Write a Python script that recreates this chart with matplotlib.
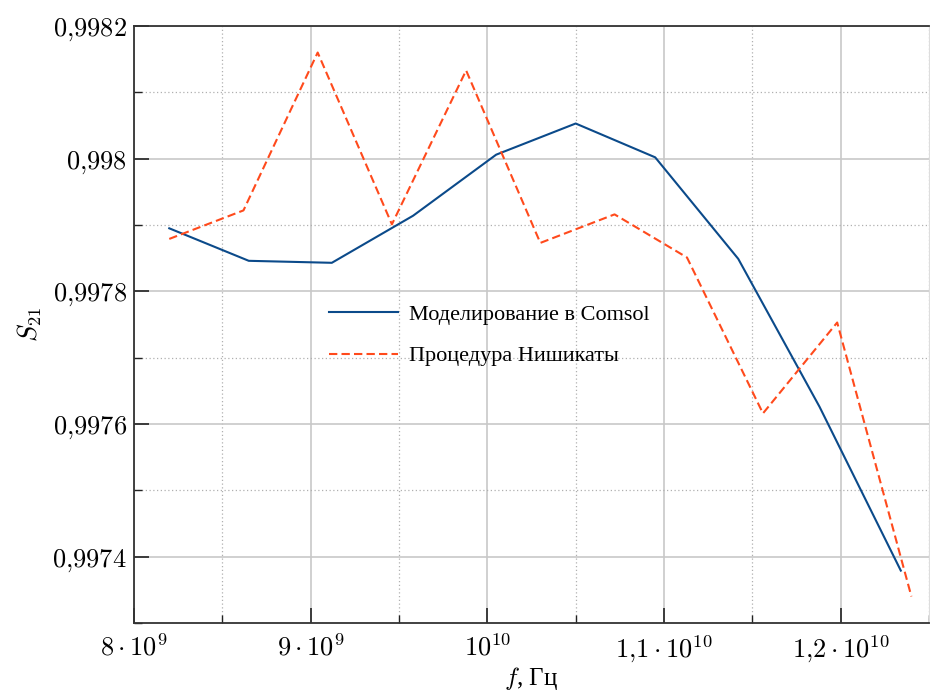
import numpy as np
import matplotlib
matplotlib.use('Agg')
import matplotlib.pyplot as plt
from matplotlib.ticker import FixedLocator, MultipleLocator

plt.rcParams['font.family'] = ['Liberation Serif', 'DejaVu Serif']
plt.rcParams['mathtext.fontset'] = 'cm'

# Моделирование в Comsol
f_comsol = [8.20e9, 8.65e9, 9.12e9, 9.58e9, 10.05e9, 10.50e9, 10.95e9, 11.42e9, 11.88e9, 12.34e9]
s21_comsol = [0.997895, 0.997846, 0.997843, 0.997914, 0.998006, 0.998053, 0.998002,
              0.997849, 0.997626, 0.997379]

# Процедура Нишикаты
f_nish = [8.20e9, 8.62e9, 9.04e9, 9.46e9, 9.88e9, 10.30e9, 10.72e9, 11.13e9, 11.56e9,
          11.98e9, 12.40e9]
s21_nish = [0.997879, 0.997922, 0.998160, 0.997901, 0.998133, 0.997873, 0.997916,
            0.997851, 0.997616, 0.997753, 0.997340]

xticks = [8e9, 9e9, 1e10, 1.1e10, 1.2e10]
xticklabels = [r'$8\cdot10^{9}$', r'$9\cdot10^{9}$', r'$10^{10}$',
               r'$1{,}1\cdot10^{10}$', r'$1{,}2\cdot10^{10}$']
yticks = [0.9974, 0.9976, 0.9978, 0.998, 0.9982]
yticklabels = [r'$0{,}9974$', r'$0{,}9976$', r'$0{,}9978$', r'$0{,}998$', r'$0{,}9982$']

fig = plt.figure(figsize=(9.3, 6.95), dpi=100)
ax = fig.add_axes([0.144, 0.1036, 0.855, 0.859])

ax.plot(f_comsol, s21_comsol, color='#0b4a8a', lw=1.5, label='Моделирование в Comsol')
ax.plot(f_nish, s21_nish, color='#ff4a1c', lw=1.5, ls=(0, (4, 2)), label='Процедура Нишикаты')

ax.set_xlim(8e9, 1.25e10)
ax.set_ylim(0.99730, 0.9982)

ax.xaxis.set_major_locator(FixedLocator(xticks))
ax.set_xticklabels(xticklabels)
ax.xaxis.set_minor_locator(MultipleLocator(0.5e9))
ax.yaxis.set_major_locator(FixedLocator(yticks))
ax.set_yticklabels(yticklabels)
ax.yaxis.set_minor_locator(MultipleLocator(0.0001))

ax.tick_params(which='major', direction='in', length=11, width=1.2, labelsize=19,
               color='#222222', pad=5)
ax.tick_params(axis='x', which='major', pad=8)
ax.tick_params(which='minor', direction='in', length=6, width=1.0, color='#222222')

ax.grid(which='major', color='#c8c8c8', lw=1.2, ls='-')
ax.grid(which='minor', color='#b0b0b0', lw=0.9, ls=(0, (1, 2)))
ax.set_axisbelow(True)

for side in ['left', 'top', 'bottom']:
    ax.spines[side].set_color('#333333')
    ax.spines[side].set_linewidth(1.3)
ax.spines['right'].set_color('#dddddd')

ax.set_xlabel(r'$f$, Гц', fontsize=18, labelpad=0)
ax.set_ylabel(r'$S_{21}$', fontsize=19, labelpad=6)

ax.legend(loc='center left', bbox_to_anchor=(0.22, 0.482), frameon=False, fontsize=16,
          handlelength=3.1, labelspacing=0.95, handletextpad=0.5)

plt.savefig('out.png', dpi=100)
